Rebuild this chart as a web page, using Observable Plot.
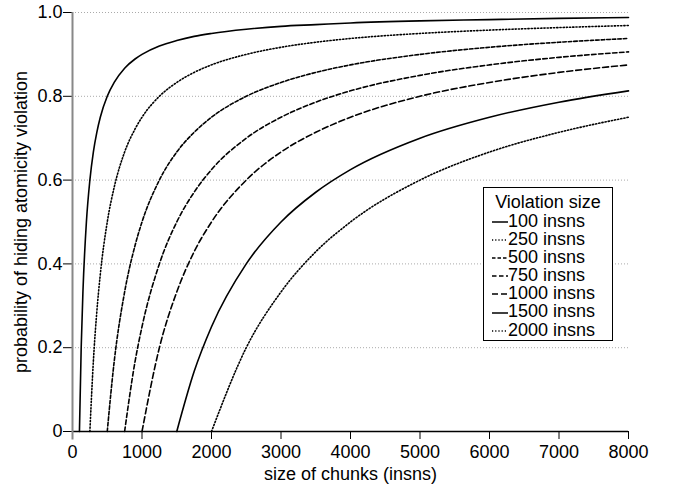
<!DOCTYPE html>
<html>
<head>
<meta charset="utf-8">
<script src="https://cdn.jsdelivr.net/npm/d3@7"></script>
<script src="https://cdn.jsdelivr.net/npm/@observablehq/plot@0.6"></script>
<style>
  html, body { margin: 0; padding: 0; background: #fff; }
  #wrap { position: relative; width: 673px; height: 489px; font-family: "Liberation Sans", Arial, Helvetica, sans-serif; }
  #legend { position: absolute; left: 483px; top: 187px; width: 128px; border: 1px solid #000; background: #fff;
            font-size: 18px; line-height: 18.1px; padding: 5px 0 1px 0; color: #000; }
  #legend .title { text-align: center; height: 19px; }
  #legend .row { display: flex; align-items: center; padding-left: 8px; height: 18.1px; }
  #legend svg { display: block; }
</style>
</head>
<body>
<div id="wrap"></div>
<script>
// ---- data ----
const chunkSizes = [100,125,150,200,250,300,350,400,500,600,750,900,1000,1250,1500,1750,2000,2500,3000,3500,4000,5000,6000,7000,8000];
const violationSizes = [100, 250, 500, 750, 1000, 1500, 2000];
const legendLabels = ["100 insns","250 insns","500 insns","750 insns","1000 insns","1500 insns","2000 insns"];
const p100  = [0,.2,.333,.5,.6,.667,.714,.75,.8,.833,.867,.889,.9,.92,.933,.943,.95,.96,.967,.971,.975,.98,.983,.986,.988];
const p250  = [null,null,null,null,0,.167,.286,.375,.5,.583,.667,.722,.75,.8,.833,.857,.875,.9,.917,.929,.938,.95,.958,.964,.969];
const p500  = [null,null,null,null,null,null,null,null,0,.167,.333,.444,.5,.6,.667,.714,.75,.8,.833,.857,.875,.9,.917,.929,.938];
const p750  = [null,null,null,null,null,null,null,null,null,null,0,.167,.25,.4,.5,.571,.625,.7,.75,.786,.813,.85,.875,.893,.906];
const p1000 = [null,null,null,null,null,null,null,null,null,null,null,null,0,.2,.333,.429,.5,.6,.667,.714,.75,.8,.833,.857,.875];
const p1500 = [null,null,null,null,null,null,null,null,null,null,null,null,null,null,0,.143,.25,.4,.5,.571,.625,.7,.75,.786,.813];
const p2000 = [null,null,null,null,null,null,null,null,null,null,null,null,null,null,null,null,0,.2,.333,.429,.5,.6,.667,.714,.75];
const xTicks = [0,1000,2000,3000,4000,5000,6000,7000,8000];
const yTicks = [0,0.2,0.4,0.6,0.8,1.0];
const gridValues = [0.2,0.4,0.6,0.8,1.0];

const seriesValues = [p100,p250,p500,p750,p1000,p1500,p2000];
const dashes = [null, "1.2,2", "3.5,2", "4.5,2.5", "6,3", null, "1.2,2"];

const rows = [];
seriesValues.forEach((vals, si) => {
  vals.forEach((y, i) => { if (y != null) rows.push({series: legendLabels[si], x: chunkSizes[i], y}); });
});

const font = '"Liberation Sans", Arial, Helvetica, sans-serif';

const lineMarks = legendLabels.map((lab, si) =>
  Plot.line(rows.filter(d => d.series === lab), {
    x: "x", y: "y", stroke: "#000", strokeWidth: 1.6,
    strokeDasharray: dashes[si] || undefined, curve: "monotone-x"
  })
);

const chart = Plot.plot({
  width: 673, height: 489,
  marginLeft: 72, marginRight: 45, marginTop: 12, marginBottom: 58,
  style: { fontFamily: font, fontSize: "18px", color: "#000", background: "#fff", overflow: "visible" },
  x: { domain: [0, 8000] },
  y: { domain: [0, 1] },
  marks: [
    Plot.ruleY(gridValues, { stroke: "#aaa", strokeWidth: 1, strokeDasharray: "1,2" }),
    Plot.ruleY([0], { stroke: "#000", strokeWidth: 1.3 }),
    Plot.axisX({ ticks: xTicks, tickSize: 8, tickPadding: 6, tickFormat: d => String(d), label: null, stroke: "#000" }),
    Plot.axisY({ ticks: yTicks, tickSize: 9, tickPadding: 1, tickFormat: d => d === 0 ? "0" : d.toFixed(1), label: null, stroke: "#000" }),
    Plot.ruleX([0], { y1: -0.02, y2: 1, stroke: "#888", strokeWidth: 2 }),
    ...lineMarks,
    Plot.text(["size of chunks (insns)"], { frameAnchor: "bottom", dy: 43, lineAnchor: "middle", textAnchor: "middle", fontSize: 18 }),
    Plot.text(["probability of hiding atomicity violation"], { frameAnchor: "left", dx: -51, rotate: -90, textAnchor: "middle", lineAnchor: "middle", fontSize: 18 })
  ]
});

const wrap = document.getElementById("wrap");
wrap.appendChild(chart);

// legend
const legend = document.createElement("div");
legend.id = "legend";
const title = document.createElement("div");
title.className = "title";
title.textContent = "Violation size";
legend.appendChild(title);
legendLabels.forEach((lab, si) => {
  const row = document.createElement("div");
  row.className = "row";
  const svg = d3.create("svg").attr("width", 16).attr("height", 18);
  svg.append("line").attr("x1", 0).attr("x2", 16).attr("y1", 10).attr("y2", 10)
     .attr("stroke", "#000").attr("stroke-width", 1.5)
     .attr("stroke-dasharray", dashes[si] || null);
  row.appendChild(svg.node());
  const t = document.createElement("span");
  t.textContent = lab;
  row.appendChild(t);
  legend.appendChild(row);
});
wrap.appendChild(legend);
</script>
</body>
</html>
